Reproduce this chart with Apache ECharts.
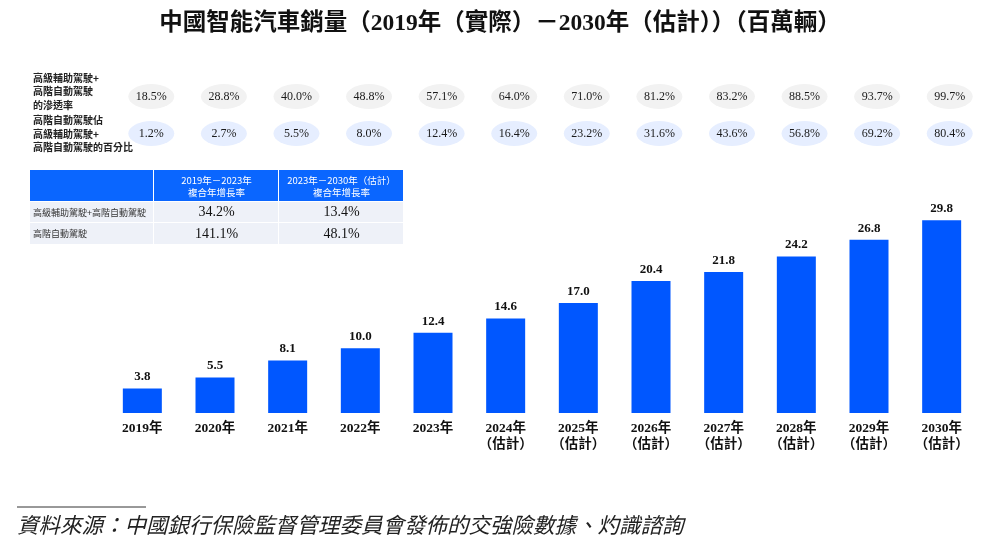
<!DOCTYPE html>
<html><head><meta charset="utf-8">
<script src="https://cdn.jsdelivr.net/npm/echarts@6/dist/echarts.min.js"></script>
<style>html,body{margin:0;padding:0;background:#fff}#c{width:1000px;height:541px}</style>
</head><body><div id="c"></div>
<script>
const categories = ['2019年','2020年','2021年','2022年','2023年','2024年\n（估計）','2025年\n（估計）','2026年\n（估計）','2027年\n（估計）','2028年\n（估計）','2029年\n（估計）','2030年\n（估計）'];
const sales = [3.8, 5.5, 8.1, 10.0, 12.4, 14.6, 17.0, 20.4, 21.8, 24.2, 26.8, 29.8];
const penetration = ['18.5%','28.8%','40.0%','48.8%','57.1%','64.0%','71.0%','81.2%','83.2%','88.5%','93.7%','99.7%'];
const highShare = ['1.2%','2.7%','5.5%','8.0%','12.4%','16.4%','23.2%','31.6%','43.6%','56.8%','69.2%','80.4%'];
const rowLabel1 = '高級輔助駕駛+\n高階自動駕駛\n的滲透率';
const rowLabel2 = '高階自動駕駛佔\n高級輔助駕駛+\n高階自動駕駛的百分比';
const tableHeader = ['', '2019年－2023年\n複合年增長率', '2023年－2030年（估計）\n複合年增長率'];
const tableRows = [
  ['高級輔助駕駛+高階自動駕駛', '34.2%', '13.4%'],
  ['高階自動駕駛', '141.1%', '48.1%']
];
const titleText = '中國智能汽車銷量（2019年（實際）－2030年（估計））（百萬輛）';
const sourceText = '資料來源：中國銀行保險監督管理委員會發佈的交強險數據、灼識諮詢';

const SERIF = '"Liberation Serif", "Noto Sans CJK TC", serif';
const SANS = '"Noto Sans CJK TC", "Noto Sans", sans-serif';

// table graphics
const colX = [30, 154, 279, 404];
const rowY = [170, 202, 223, 245];
const graphics = [];
for (let c = 0; c < 3; c++) {
  graphics.push({type:'rect', shape:{x:colX[c], y:rowY[0], width:colX[c+1]-colX[c]-1, height:rowY[1]-rowY[0]-1}, style:{fill:'#0a66ff'}});
  if (tableHeader[c]) graphics.push({type:'text', x:(colX[c]+colX[c+1])/2, y:(rowY[0]+rowY[1])/2, style:{text:tableHeader[c], fill:'#fff', font:'9.5px '+SANS, align:'center', verticalAlign:'middle', lineHeight:12}});
}
tableRows.forEach((row, r) => {
  for (let c = 0; c < 3; c++) {
    graphics.push({type:'rect', shape:{x:colX[c], y:rowY[r+1], width:colX[c+1]-colX[c]-1, height:rowY[r+2]-rowY[r+1]-1}, style:{fill:'#eef1f8'}});
    const cy = (rowY[r+1]+rowY[r+2])/2;
    if (c === 0) graphics.push({type:'text', x:colX[0]+3, y:cy, style:{text:row[0], fill:'#333', font:'9px '+SANS, verticalAlign:'middle'}});
    else graphics.push({type:'text', x:(colX[c]+colX[c+1])/2, y:cy, style:{text:row[c], fill:'#111', font:'14px '+SERIF, align:'center', verticalAlign:'middle'}});
  }
});
graphics.push({type:'text', x:33, y:91.5, style:{text:rowLabel1, fill:'#222', font:'bold 10px '+SANS, verticalAlign:'middle', lineHeight:13.5}});
graphics.push({type:'text', x:33, y:134, style:{text:rowLabel2, fill:'#222', font:'bold 10px '+SANS, verticalAlign:'middle', lineHeight:13.5}});
graphics.push({type:'line', shape:{x1:17, y1:507, x2:146, y2:507}, style:{stroke:'#333', lineWidth:1}});
graphics.push({type:'text', x:17, y:525, style:{text:sourceText, fill:'#222', font:'italic 21.5px '+SANS, verticalAlign:'middle'}});

const chart = echarts.init(document.getElementById('c'));
chart.setOption({
  animation: false,
  title: {text: titleText, left: 'center', top: 7, textStyle: {fontFamily: SERIF, fontWeight: 'bold', fontSize: 23.5, color: '#111'}},
  grid: [
    {left: 106, right: 22, top: 219, bottom: 128},
    {left: 115, right: 14, top: 78, height: 74}
  ],
  xAxis: [
    {type:'category', data: categories, gridIndex:0, axisLine:{show:false}, axisTick:{show:false},
     axisLabel:{interval:0, margin:8, fontFamily:SERIF, fontWeight:'bold', fontSize:13.5, color:'#111', lineHeight:16}},
    {type:'category', data: categories, gridIndex:1, show:false}
  ],
  yAxis: [
    {type:'value', min:0, max:30, gridIndex:0, show:false},
    {type:'category', data:['a','b'], inverse:true, gridIndex:1, show:false}
  ],
  series: [
    {type:'bar', data: sales, xAxisIndex:0, yAxisIndex:0, barWidth:39, itemStyle:{color:'#0057ff'},
     label:{show:true, position:'top', distance:5, fontFamily:SERIF, fontWeight:'bold', fontSize:13, color:'#111', formatter: p => p.value.toFixed(1)}},
    {type:'scatter', xAxisIndex:1, yAxisIndex:1, symbol:'circle', symbolSize:[46,25], itemStyle:{color:'#f2f2f2', opacity:1},
     data: penetration.map((v,i)=>[i,0,v]),
     label:{show:true, position:'inside', formatter: p => p.value[2], fontFamily:SERIF, fontSize:12, color:'#1a1a1a'}},
    {type:'scatter', xAxisIndex:1, yAxisIndex:1, symbol:'circle', symbolSize:[46,25], itemStyle:{color:'#e6eeff', opacity:1},
     data: highShare.map((v,i)=>[i,1,v]),
     label:{show:true, position:'inside', formatter: p => p.value[2], fontFamily:SERIF, fontSize:12, color:'#1a1a1a'}}
  ],
  graphic: graphics
});
</script></body></html>
